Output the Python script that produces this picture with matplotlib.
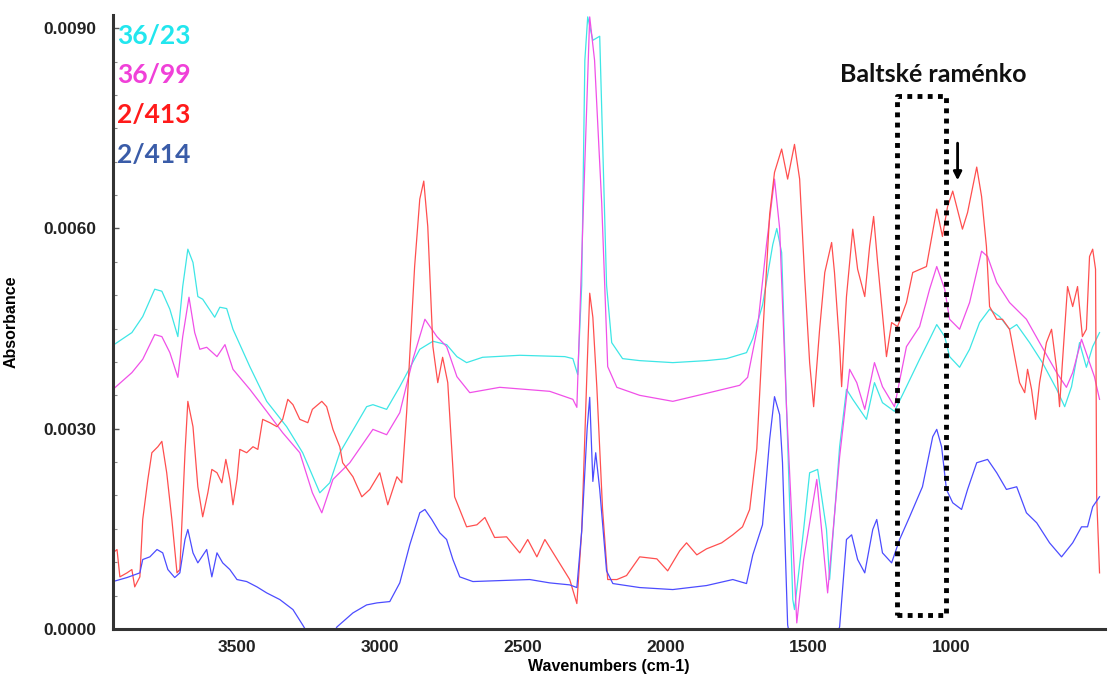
import matplotlib
matplotlib.use('agg')
import numpy as np
import matplotlib.pyplot as plt

# spectra: wavenumber (cm-1) and absorbance (x 1e-3)
wn_cyan = [3934, 3868, 3830, 3788, 3763, 3735, 3707, 3690, 3672, 3654, 3637, 3620, 3578, 3560,
           3536, 3514, 3455, 3396, 3326, 3270, 3210, 3175, 3140, 3046, 3024, 2976, 2930, 2860,
           2814, 2766, 2730, 2696, 2640, 2510, 2352, 2324, 2307, 2293, 2282, 2272, 2254, 2230,
           2206, 2188, 2150, 2090, 1974, 1856, 1786, 1716, 1694, 1660, 1624, 1610, 1593, 1576,
           1554, 1548, 1516, 1495, 1467, 1436, 1425, 1390, 1366, 1344, 1296, 1268, 1240, 1198,
           1156, 1110, 1075, 1050, 1022, 1005, 970, 935, 900, 865, 830, 795, 770, 725, 680,
           630, 602, 578, 550, 526, 504, 480]
ab_cyan = [4.25, 4.44, 4.68, 5.09, 5.06, 4.79, 4.38, 5.13, 5.69, 5.49, 4.98, 4.94, 4.67, 4.82,
           4.80, 4.49, 3.93, 3.41, 3.03, 2.64, 2.04, 2.19, 2.64, 3.33, 3.36, 3.29, 3.63, 4.19,
           4.31, 4.26, 4.08, 3.99, 4.07, 4.10, 4.08, 4.05, 3.81, 5.15, 8.52, 9.17, 8.82, 8.88,
           5.15, 4.29, 4.05, 4.02, 3.99, 4.02, 4.05, 4.14, 4.35, 4.85, 5.76, 6.00, 5.64, 3.32,
           0.44, 0.29, 1.49, 2.34, 2.39, 1.49, 0.74, 2.73, 3.59, 3.44, 3.14, 3.69, 3.39, 3.26,
           3.63, 4.04, 4.34, 4.56, 4.38, 4.08, 3.92, 4.19, 4.59, 4.79, 4.68, 4.49, 4.56, 4.29,
           3.99, 3.59, 3.33, 3.63, 4.29, 3.92, 4.23, 4.44]

wn_magenta = [3934, 3868, 3830, 3788, 3763, 3735, 3707, 3690, 3668, 3648, 3630, 3606, 3570,
              3542, 3514, 3455, 3396, 3340, 3280, 3236, 3203, 3164, 3105, 3024, 2976, 2930,
              2884, 2842, 2800, 2766, 2730, 2685, 2580, 2405, 2324, 2310, 2282, 2265, 2248,
              2223, 2202, 2170, 2090, 1974, 1856, 1740, 1712, 1677, 1646, 1618, 1600, 1576,
              1540, 1516, 1470, 1432, 1390, 1355, 1330, 1302, 1268, 1240, 1198, 1156, 1110,
              1075, 1050, 1022, 1005, 970, 935, 893, 872, 840, 795, 736, 690, 630, 596, 574,
              543, 515, 498, 480]
ab_magenta = [3.59, 3.84, 4.04, 4.41, 4.38, 4.14, 3.77, 4.38, 4.97, 4.44, 4.19, 4.22, 4.08,
              4.26, 3.89, 3.59, 3.26, 2.94, 2.64, 2.04, 1.74, 2.24, 2.49, 2.99, 2.91, 3.24,
              4.04, 4.64, 4.38, 4.23, 3.78, 3.54, 3.62, 3.56, 3.44, 3.32, 6.99, 9.17, 8.52,
              6.38, 3.93, 3.62, 3.50, 3.41, 3.53, 3.65, 3.77, 4.53, 5.76, 6.74, 6.00, 3.32,
              0.09, 1.04, 2.24, 0.54, 2.58, 3.89, 3.69, 3.29, 3.99, 3.63, 3.33, 4.23, 4.53,
              5.09, 5.43, 5.09, 4.64, 4.49, 4.89, 5.66, 5.58, 5.19, 4.89, 4.64, 4.29, 3.84,
              3.62, 3.84, 4.34, 3.99, 3.78, 3.44]

wn_red = [3934, 3920, 3910, 3885, 3868, 3858, 3840, 3830, 3812, 3798, 3777, 3763, 3746, 3728,
          3710, 3700, 3682, 3672, 3654, 3637, 3620, 3602, 3588, 3570, 3553, 3539, 3525, 3514,
          3500, 3490, 3466, 3444, 3427, 3410, 3385, 3360, 3340, 3322, 3304, 3280, 3252, 3236,
          3203, 3186, 3164, 3140, 3130, 3094, 3063, 3035, 3000, 2972, 2940, 2923, 2906, 2878,
          2860, 2846, 2832, 2814, 2797, 2780, 2762, 2738, 2696, 2660, 2632, 2598, 2556, 2510,
          2482, 2450, 2422, 2380, 2335, 2310, 2293, 2274, 2265, 2254, 2240, 2220, 2202, 2170,
          2136, 2090, 2030, 1992, 1950, 1926, 1890, 1856, 1803, 1764, 1730, 1705, 1680, 1660,
          1635, 1618, 1593, 1572, 1548, 1530, 1512, 1495, 1481, 1460, 1442, 1418, 1408, 1390,
          1383, 1366, 1344, 1327, 1302, 1285, 1271, 1257, 1226, 1208, 1187, 1156, 1134, 1086,
          1050, 1030, 1012, 994, 960, 942, 910, 893, 876, 865, 840, 820, 795, 760, 742, 732,
          718, 704, 690, 666, 648, 630, 620, 610, 592, 574, 557, 540, 526, 515, 504, 494,
          490, 480]
ab_red = [1.14, 1.19, 0.78, 0.84, 0.89, 0.63, 0.78, 1.64, 2.24, 2.64, 2.73, 2.81, 2.34, 1.64,
          0.84, 0.89, 2.64, 3.41, 3.03, 2.13, 1.68, 2.04, 2.39, 2.34, 2.19, 2.54, 2.24, 1.86,
          2.24, 2.69, 2.64, 2.73, 2.69, 3.14, 3.09, 3.03, 3.14, 3.44, 3.36, 3.14, 3.09, 3.29,
          3.41, 3.33, 2.99, 2.73, 2.49, 2.28, 1.98, 2.09, 2.34, 1.86, 2.28, 2.19, 3.24, 5.43,
          6.44, 6.71, 6.03, 4.23, 3.69, 4.07, 3.69, 1.98, 1.53, 1.56, 1.67, 1.37, 1.38, 1.14,
          1.34, 1.08, 1.34, 1.05, 0.74, 0.38, 1.47, 3.93, 5.03, 4.67, 3.62, 1.79, 0.74, 0.74,
          0.80, 1.08, 1.05, 0.87, 1.17, 1.29, 1.11, 1.20, 1.29, 1.41, 1.53, 1.79, 2.70, 4.34,
          6.21, 6.84, 7.19, 6.74, 7.26, 6.74, 5.24, 3.99, 3.33, 4.49, 5.34, 5.79, 5.34, 4.23,
          3.63, 4.98, 5.99, 5.39, 4.98, 5.73, 6.18, 5.49, 4.08, 4.59, 4.53, 4.89, 5.34, 5.43,
          6.29, 5.88, 6.33, 6.56, 5.99, 6.24, 6.92, 6.48, 5.73, 4.83, 4.64, 4.64, 4.49, 3.69,
          3.54, 3.89, 3.59, 3.14, 3.69, 4.29, 4.49, 3.89, 3.33, 3.99, 5.13, 4.83, 5.13, 4.38,
          4.49, 5.58, 5.69, 5.39, 1.98, 0.84]

wn_blue = [3934, 3885, 3840, 3830, 3805, 3780, 3760, 3742, 3718, 3700, 3682, 3672, 3654, 3637,
           3606, 3588, 3570, 3550, 3525, 3500, 3466, 3430, 3396, 3350, 3304, 3270, 3228, 3192,
           3150, 3094, 3046, 3010, 2965, 2930, 2895, 2860, 2842, 2818, 2790, 2766, 2744, 2720,
           2674, 2475, 2405, 2335, 2310, 2293, 2274, 2265, 2254, 2244, 2230, 2206, 2184, 2090,
           1974, 1856, 1764, 1716, 1694, 1660, 1635, 1618, 1600, 1590, 1572, 1548, 1512, 1470,
           1420, 1390, 1366, 1348, 1327, 1302, 1274, 1260, 1240, 1208, 1180, 1145, 1100, 1064,
           1050, 1033, 1016, 994, 963, 942, 910, 872, 840, 806, 770, 736, 700, 655, 613, 574,
           543, 522, 504, 480]
ab_blue = [0.71, 0.77, 0.84, 1.04, 1.08, 1.19, 1.14, 0.89, 0.77, 0.84, 1.34, 1.49, 1.14, 0.99,
           1.19, 0.78, 1.14, 0.99, 0.89, 0.74, 0.71, 0.63, 0.54, 0.44, 0.29, 0.06, -0.24, -0.29,
           0.03, 0.24, 0.36, 0.39, 0.41, 0.69, 1.26, 1.74, 1.79, 1.64, 1.44, 1.34, 1.04, 0.78,
           0.71, 0.74, 0.69, 0.66, 0.62, 1.47, 3.00, 3.47, 2.21, 2.64, 2.09, 0.87, 0.68, 0.62,
           0.59, 0.65, 0.74, 0.68, 1.11, 1.56, 2.84, 3.48, 3.21, 2.49, 0.06, -0.47, -0.32, -0.4,
           -0.3, 0.03, 1.34, 1.41, 1.04, 0.84, 1.49, 1.64, 1.14, 0.99, 1.34, 1.68, 2.13, 2.88,
           2.99, 2.73, 2.09, 1.89, 1.79, 2.09, 2.49, 2.54, 2.34, 2.09, 2.13, 1.74, 1.59, 1.29,
           1.08, 1.29, 1.53, 1.53, 1.83, 1.98]

names = ['36/23', '36/99', '2/413', '2/414']
line_colors = ['#3ee6e6', '#f050e8', '#ff4f4f', '#4c4cff']
name_colors = ['#22e6ee', '#f040d8', '#ff1a1a', '#3a5ca8']

# Baltic shoulder box and arrow (wavenumber, absorbance x 1e-3)
box_wn = (1190, 1019)
box_ab = (0.21, 7.98)
arrow_wn = 977
arrow_ab = (7.32, 6.68)

fig = plt.figure(figsize=(11.08, 6.77), dpi=100)
ax = fig.add_axes([0.102, 0.071, 0.895, 0.907])

for wn, ab, c in zip([wn_cyan, wn_magenta, wn_red, wn_blue],
                     [ab_cyan, ab_magenta, ab_red, ab_blue], line_colors):
    ax.plot(wn, np.array(ab) * 1e-3, color=c, lw=0.9)

ax.set_xlim(3934, 462)
ax.set_ylim(0, 0.0092)

for s in ['top', 'right']:
    ax.spines[s].set_visible(False)
for s in ['left', 'bottom']:
    ax.spines[s].set_linewidth(2.2)
    ax.spines[s].set_color('#333333')

ax.set_yticks([0, 0.003, 0.006, 0.009])
ax.set_yticklabels(['0.0000', '0.0030', '0.0060', '0.0090'])
ax.set_yticks(np.arange(0, 0.0092, 0.0005), minor=True)
ax.set_xticks([3500, 3000, 2500, 2000, 1500, 1000])
ax.tick_params(axis='y', which='major', direction='in', length=4, width=1, color='#555555', pad=12)
ax.tick_params(axis='y', which='minor', direction='in', length=3, width=0.8, color='#888888')
ax.tick_params(axis='x', which='major', length=0, pad=8)
for lab in ax.get_xticklabels() + ax.get_yticklabels():
    lab.set_fontfamily('Liberation Sans')
    lab.set_fontweight('bold')
    lab.set_fontsize(12.5)
    lab.set_color('#222222')

ax.set_xlabel('Wavenumbers (cm-1)', fontfamily='Liberation Sans', fontweight='bold',
              fontsize=11.5, labelpad=3)
ax.set_ylabel('Absorbance', fontfamily='Liberation Sans', fontweight='bold',
              fontsize=11.5, labelpad=18)

for i, (n, c) in enumerate(zip(names, name_colors)):
    fig.text(117 / 1108, 1 - (36 + 39.5 * i) / 677, n, color=c, fontsize=19,
             fontweight='bold', fontfamily='Lato', va='center', ha='left')

ax.plot([box_wn[0], box_wn[1], box_wn[1], box_wn[0], box_wn[0]],
        np.array([box_ab[0], box_ab[0], box_ab[1], box_ab[1], box_ab[0]]) * 1e-3,
        color='black', lw=3.5, linestyle=(0, (1, 1.1)))
ax.text(1061, 8.31e-3, 'Baltské raménko', fontsize=18, fontweight='bold',
        fontfamily='Lato', ha='center', va='center', color='#111111')
ax.annotate('', xy=(arrow_wn, arrow_ab[1] * 1e-3), xytext=(arrow_wn, arrow_ab[0] * 1e-3),
            arrowprops=dict(arrowstyle='-|>', color='black', lw=2, mutation_scale=12))

plt.savefig('out.png', dpi=100)
